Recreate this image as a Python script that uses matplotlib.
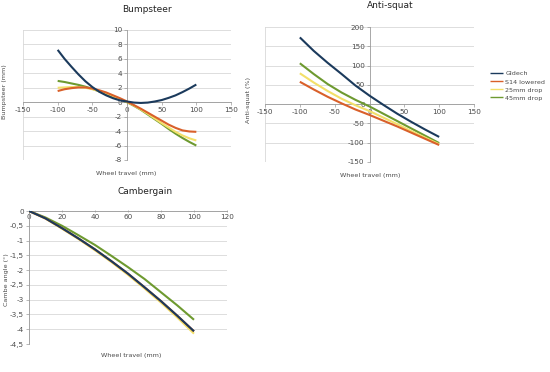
import matplotlib
matplotlib.use("Agg")
import matplotlib.pyplot as plt
import numpy as np

series_names = ["Gldech", "S14 lowered", "25mm drop", "45mm drop"]
colors = ["#1b3a5c", "#d9602a", "#f3e06a", "#6e9a30"]

# Bumpsteer
bump_x = [-100, -90, -80, -70, -60, -50, -40, -30, -20, -10, 0,
          10, 20, 30, 40, 50, 60, 70, 80, 90, 100]
bump_gldech = [7.25, 6.0, 4.9, 3.85, 2.9, 2.1, 1.45, 0.95, 0.55, 0.25, 0.1,
               -0.05, -0.1, -0.05, 0.1, 0.3, 0.6, 0.95, 1.4, 1.9, 2.45]
bump_s14 = [1.55, 1.8, 1.95, 2.05, 2.05, 1.9, 1.65, 1.35, 0.95, 0.55, 0.1,
            -0.4, -0.9, -1.45, -2.0, -2.55, -3.1, -3.55, -3.9, -4.05, -4.1]
bump_25 = [2.0, 2.05, 2.1, 2.1, 2.0, 1.8, 1.55, 1.25, 0.85, 0.45, 0.05,
           -0.45, -1.0, -1.6, -2.25, -2.9, -3.5, -4.1, -4.6, -5.0, -5.3]
bump_45 = [2.95, 2.8, 2.6, 2.4, 2.15, 1.85, 1.5, 1.15, 0.8, 0.4, 0.0,
           -0.5, -1.05, -1.7, -2.35, -3.0, -3.7, -4.35, -4.95, -5.5, -6.0]

# Anti-squat
anti_x = [-100, -80, -60, -40, -20, 0, 20, 40, 60, 80, 100]
anti_gldech = [173, 138, 107, 78, 48, 22, -2, -25, -46, -66, -85]
anti_s14 = [58, 38, 19, 2, -14, -28, -43, -58, -74, -90, -106]
anti_25 = [80, 56, 34, 14, -3, -18, -35, -52, -70, -87, -104]
anti_45 = [106, 78, 52, 30, 11, -6, -25, -44, -63, -82, -101]

# Cambergain
camb_x = [0, 10, 20, 30, 40, 50, 60, 70, 80, 90, 100]
camb_gldech = [0, -0.25, -0.58, -0.93, -1.3, -1.7, -2.12, -2.58, -3.05, -3.55, -4.07]
camb_s14 = [0, -0.25, -0.58, -0.93, -1.3, -1.7, -2.12, -2.58, -3.05, -3.55, -4.07]
camb_25 = [0, -0.26, -0.6, -0.95, -1.33, -1.73, -2.16, -2.62, -3.1, -3.61, -4.15]
camb_45 = [0, -0.22, -0.5, -0.82, -1.15, -1.52, -1.9, -2.3, -2.75, -3.2, -3.68]

W, H = 550, 372
fig = plt.figure(figsize=(W / 100, H / 100), dpi=100)
fig.patch.set_facecolor("white")

grid_c = "#d8d8d8"
axis_c = "#9a9a9a"
text_c = "#4a4a4a"
fs = 5.2

def rect(l, r, t, b):
    return [l / W, (H - b) / H, (r - l) / W, (b - t) / H]

def style(ax, xlim, ylim, xticks, yticks, xfmt=str, yfmt=str):
    ax.set_xlim(*xlim)
    ax.set_ylim(*ylim)
    ax.set_xticks(xticks)
    ax.set_yticks(yticks)
    ax.set_xticklabels([xfmt(v) for v in xticks])
    ax.set_yticklabels([yfmt(v) for v in yticks])
    for yv in yticks:
        ax.axhline(yv, color=grid_c, lw=0.6, zorder=0)
    ax.axvline(xlim[0], color=grid_c, lw=0.6, zorder=0)
    ax.axvline(xlim[1], color=grid_c, lw=0.6, zorder=0)
    ax.spines["top"].set_visible(False)
    ax.spines["right"].set_visible(False)
    ax.spines["left"].set_position(("data", 0))
    ax.spines["bottom"].set_position(("data", 0))
    ax.spines["left"].set_color(axis_c)
    ax.spines["bottom"].set_color(axis_c)
    ax.spines["left"].set_linewidth(0.6)
    ax.spines["bottom"].set_linewidth(0.6)
    ax.tick_params(labelsize=fs, colors=text_c, length=2, width=0.5, pad=1.5)
    ax.tick_params(axis="both", color=axis_c)
    ax.patch.set_alpha(0)

def draw(ax, x, ys):
    for i in [3, 2, 1, 0]:
        ax.plot(x, ys[i], color=colors[i], lw=1.5, solid_capstyle="butt",
                solid_joinstyle="round", zorder=3 + (3 - i), label=series_names[i])

# Bumpsteer
ax1 = fig.add_axes(rect(23, 231, 30, 160))
style(ax1, (-150, 150), (-8, 10), [-150, -100, -50, 0, 50, 100, 150],
      list(range(-8, 11, 2)))
draw(ax1, bump_x, [bump_gldech, bump_s14, bump_25, bump_45])
fig.text(147 / W, 1 - 9 / H, "Bumpsteer", fontsize=6.5, ha="center", va="center", color="#222222")
fig.text(5 / W, 1 - 92 / H, "Bumpsteer (mm)", fontsize=4.6, rotation=90, ha="center", va="center", color=text_c)
fig.text(126 / W, 1 - 173 / H, "Wheel travel (mm)", fontsize=4.6, ha="center", va="center", color=text_c)

# Anti-squat
ax2 = fig.add_axes(rect(265, 474, 27, 162))
style(ax2, (-150, 150), (-150, 200), [-150, -100, -50, 0, 50, 100, 150],
      list(range(-150, 201, 50)))
draw(ax2, anti_x, [anti_gldech, anti_s14, anti_25, anti_45])
fig.text(390 / W, 1 - 5 / H, "Anti-squat", fontsize=6.5, ha="center", va="center", color="#222222")
fig.text(249 / W, 1 - 100 / H, "Anti-squat (%)", fontsize=4.6, rotation=90, ha="center", va="center", color=text_c)
fig.text(370 / W, 1 - 175 / H, "Wheel travel (mm)", fontsize=4.6, ha="center", va="center", color=text_c)

handles, labels = ax2.get_legend_handles_labels()
order = [labels.index(n) for n in series_names]
leg = fig.legend([handles[i] for i in order], [labels[i] for i in order],
                 loc="upper left", bbox_to_anchor=(490 / W, 1 - 71 / H),
                 frameon=False, fontsize=4.6, handlelength=2.0, handletextpad=0.4,
                 labelspacing=0.4, borderaxespad=0, borderpad=0)
for t in leg.get_texts():
    t.set_color(text_c)
for l in leg.get_lines():
    l.set_linewidth(1.0)

# Cambergain
ax3 = fig.add_axes(rect(29, 227, 211, 344))
yt = [0, -0.5, -1, -1.5, -2, -2.5, -3, -3.5, -4, -4.5]
style(ax3, (0, 120), (-4.5, 0), [0, 20, 40, 60, 80, 100, 120], yt,
      yfmt=lambda v: ("0" if v == 0 else (f"{v:g}").replace(".", ",")))
ax3.axhline(-4.5, color=grid_c, lw=0.6, zorder=0)
draw(ax3, camb_x, [camb_gldech, camb_s14, camb_25, camb_45])
ax3.tick_params(axis="x", direction="inout")
fig.text(145 / W, 1 - 191 / H, "Cambergain", fontsize=6.5, ha="center", va="center", color="#222222")
fig.text(7 / W, 1 - 280 / H, "Cambe angle (°)", fontsize=4.6, rotation=90, ha="center", va="center", color=text_c)
fig.text(131 / W, 1 - 356 / H, "Wheel travel (mm)", fontsize=4.6, ha="center", va="center", color=text_c)

fig.savefig("out.png", dpi=100, facecolor="white")
